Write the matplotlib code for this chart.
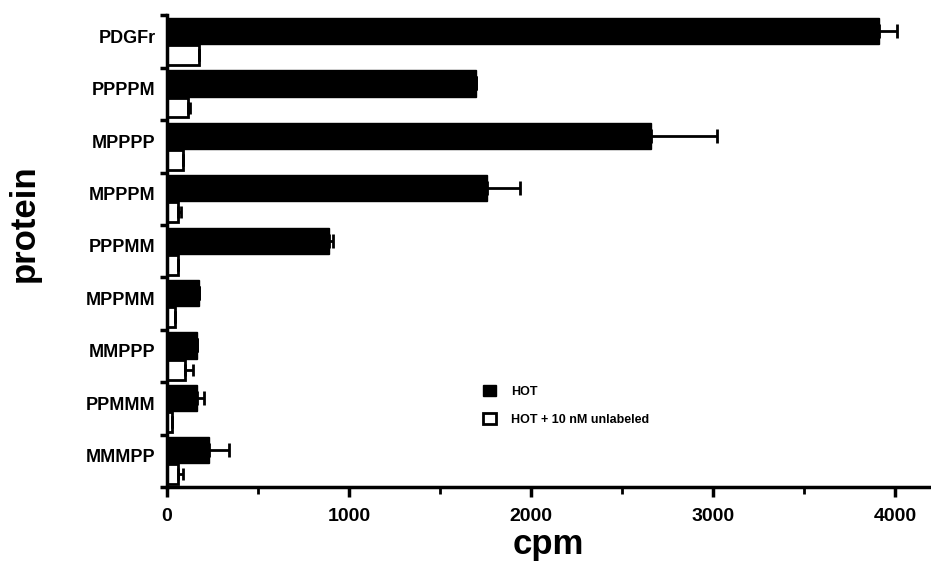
import numpy as np
import matplotlib.pyplot as plt
from matplotlib.ticker import MultipleLocator, FixedLocator

proteins = ['PDGFr', 'PPPPM', 'MPPPP', 'MPPPM', 'PPPMM', 'MPPMM', 'MMPPP', 'PPMMM', 'MMMPP']
hot = [3910, 1700, 2660, 1760, 890, 180, 165, 165, 235]
hot_err = [100, 0, 360, 180, 25, 0, 0, 40, 105]
cold = [180, 115, 90, 60, 60, 45, 100, 30, 65]
cold_err = [0, 15, 0, 20, 0, 0, 45, 0, 25]

plt.rcParams['font.family'] = ['Liberation Sans', 'DejaVu Sans']
plt.rcParams['font.weight'] = 'bold'

fig = plt.figure(figsize=(9.31, 5.65), dpi=100)
ax = fig.add_axes([0.179, 0.138, 0.82, 0.835])

y = np.arange(len(proteins))
ax.barh(y - 0.2, hot, height=0.5, color='black', edgecolor='black',
        xerr=[np.zeros(len(hot)), hot_err], error_kw=dict(ecolor='black', elinewidth=2, capsize=5, capthick=2),
        label='HOT')
ax.barh(y + 0.26, cold, height=0.38, color='white', edgecolor='black', linewidth=2,
        xerr=[np.zeros(len(cold)), cold_err], error_kw=dict(ecolor='black', elinewidth=2, capsize=4, capthick=2),
        label='HOT + 10 nM unlabeled')

ax.set_xlim(0, 4190)
ax.set_ylim(len(proteins) - 0.5, -0.5)

ax.spines['top'].set_visible(False)
ax.spines['right'].set_visible(False)
ax.spines['left'].set_linewidth(2.5)
ax.spines['bottom'].set_linewidth(2.5)

# labels sit a little above the centre of each group
ax.set_yticks(y - 0.1)
ax.set_yticklabels(proteins, fontsize=13, fontweight='bold')
ax.tick_params(axis='y', which='major', length=0, pad=8)
ax.yaxis.set_minor_locator(FixedLocator(np.arange(-0.5, len(proteins), 1.0)))
ax.tick_params(axis='y', which='minor', length=5, width=2.5)

ax.xaxis.set_major_locator(MultipleLocator(1000))
ax.xaxis.set_minor_locator(MultipleLocator(500))
ax.tick_params(axis='x', which='major', length=7, width=2.5, labelsize=14, pad=8)
ax.tick_params(axis='x', which='minor', length=5, width=2)
for lab in ax.get_xticklabels():
    lab.set_fontweight('bold')

ax.set_xlabel('cpm', fontsize=25, fontweight='bold', labelpad=2)
ax.set_ylabel('protein', fontsize=25, fontweight='bold')
ax.yaxis.set_label_coords(-0.165, 0.56)

ax.legend(loc='upper left', bbox_to_anchor=(0.4, 0.24), frameon=False,
          prop=dict(size=9, weight='bold'), handlelength=1.0, handleheight=1.0,
          labelspacing=1.2, handletextpad=1.2)

plt.savefig('out.png', dpi=100)
